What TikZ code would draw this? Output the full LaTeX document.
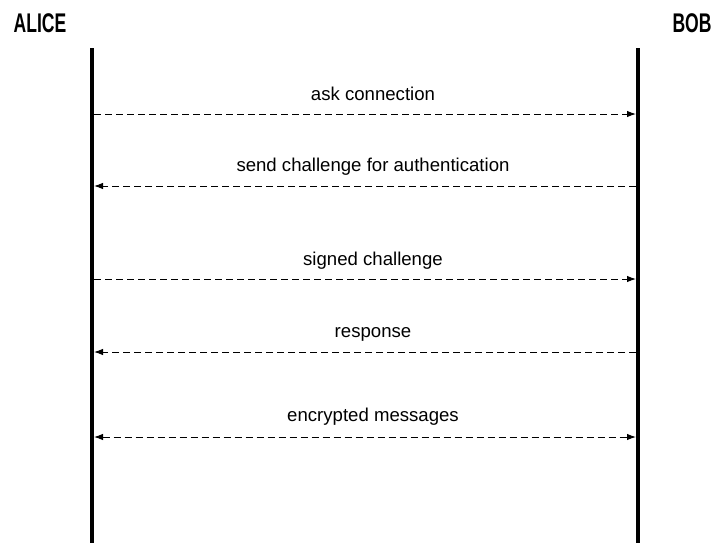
\documentclass[tikz,border=0pt]{standalone}
\usepackage{fontspec}
\setmainfont{Liberation Sans}
\usetikzlibrary{arrows.meta}
\tikzset{
  actor/.style={anchor=base, inner sep=0pt, font=\fontsize{27}{30}\selectfont\bfseries},
  lifeline/.style={line width=4.2pt},
  msg/.style={dash pattern=on 7pt off 4pt, line width=1pt, shorten >=2pt, shorten <=2pt},
  msglabel/.style={anchor=base, inner sep=0pt, font=\fontsize{18.6}{22}\selectfont},
  tip/.tip={Latex[length=9pt,width=6.5pt]}
}
\begin{document}
\begin{tikzpicture}[x=1pt,y=-1pt]
\useasboundingbox (0,0) rectangle (718,552);
\node[actor] (alice) at (40,32) {\scalebox{0.65}[1]{ALICE}};
\node[actor] (bob) at (692,32) {\scalebox{0.65}[1]{BOB}};
\coordinate (aTop) at (92,48);
\coordinate (aBot) at (92,543);
\coordinate (bTop) at (638,48);
\coordinate (bBot) at (638,543);
\draw[lifeline] (aTop) -- (aBot);
\draw[lifeline] (bTop) -- (bBot);
% message anchor points
\coordinate (a1) at (92,114);  \coordinate (b1) at (638,114);
\coordinate (a2) at (92,186);  \coordinate (b2) at (638,186);
\coordinate (a3) at (92,279);  \coordinate (b3) at (638,279);
\coordinate (a4) at (92,352);  \coordinate (b4) at (638,352);
\coordinate (a5) at (92,437);  \coordinate (b5) at (638,437);
\draw[msg,-tip] (a1) -- (b1);
\draw[msg,-tip] (b2) -- (a2);
\draw[msg,-tip] (a3) -- (b3);
\draw[msg,-tip] (b4) -- (a4);
\draw[msg,tip-tip] (a5) -- (b5);
\node[msglabel] (l1) at (373,100) {ask connection};
\node[msglabel] (l2) at (373,171) {send challenge for authentication};
\node[msglabel] (l3) at (373,265) {signed challenge};
\node[msglabel] (l4) at (373,337) {response};
\node[msglabel] (l5) at (373,421) {encrypted messages};
\end{tikzpicture}
\end{document}
